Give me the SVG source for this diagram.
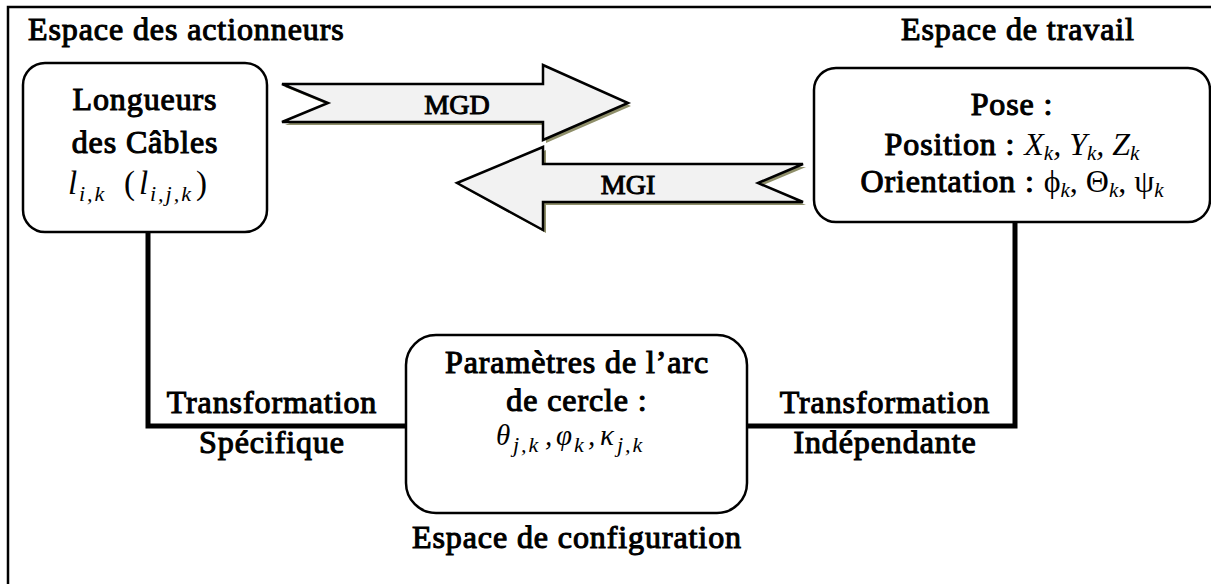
<svg xmlns="http://www.w3.org/2000/svg" width="1211" height="584" viewBox="0 0 1211 584">
<style>
.t{font-family:"Liberation Serif","Times New Roman",serif;font-weight:normal;font-size:32px;letter-spacing:0.9px;fill:#000;stroke:#000;stroke-width:1.1px}
.m{font-family:"Liberation Serif","Times New Roman",serif;font-style:italic;font-weight:normal;letter-spacing:0;stroke:none;fill:#000}
.g{font-family:"Liberation Serif","Times New Roman",serif;font-weight:normal;font-style:normal;letter-spacing:0;stroke:none;fill:#000}
.s{font-size:21px}
.ss{font-size:22px;letter-spacing:2px}
.box{fill:#fff;stroke:#000;stroke-width:2.5}
.arr{fill:#f2f2f2;stroke:#000;stroke-width:2.5;stroke-linejoin:miter}
.sh{fill:#8f8f6a}
.con{fill:none;stroke:#000;stroke-width:5}
.lab{font-family:"Liberation Serif","Times New Roman",serif;font-weight:normal;font-size:28px;stroke:#000;stroke-width:1px}
</style>
<rect x="0" y="0" width="1211" height="584" fill="#fff"/>
<rect id="frame" x="8" y="7" width="1215" height="600" fill="none" stroke="#000" stroke-width="2.5"/>
<text class="t" x="28" y="40">Espace des  actionneurs</text>
<text class="t" x="1018" y="40" text-anchor="middle">Espace de travail</text>
<text class="t" x="577" y="548" text-anchor="middle">Espace de configuration</text>

<g id="connectors">
<polyline class="con" points="148,232 148,426 406,426"/>
<polyline class="con" points="1015,222 1015,426 747,426"/>
</g>
<text class="t" x="272" y="413" text-anchor="middle">Transformation</text>
<text class="t" x="272" y="453" text-anchor="middle">Spécifique</text>
<text class="t" x="885" y="413" text-anchor="middle">Transformation</text>
<text class="t" x="885" y="453" text-anchor="middle">Indépendante</text>

<g id="mgd">
<polygon class="sh" points="285,87 546,87 546,68 631,106 546,143 546,125 285,125 331,106"/>
<polygon class="arr" points="282,84 543,84 543,65 628,103 543,140 543,122 282,122 328,103"/>
<text class="lab" x="457" y="114" text-anchor="middle">MGD</text>
</g>
<g id="mgi">
<polygon class="sh" points="806,167 546,167 546,150 460,186 546,233 546,205 806,205 761,186"/>
<polygon class="arr" points="803,164 543,164 543,147 457,183 543,230 543,202 803,202 758,183"/>
<text class="lab" x="628" y="194" text-anchor="middle">MGI</text>
</g>

<g id="actuator">
<rect class="box" x="23" y="63" width="244" height="169" rx="22"/>
<text class="t" x="145" y="110" text-anchor="middle">Longueurs</text>
<text class="t" x="145" y="153" text-anchor="middle">des Câbles</text>
<text class="m" y="194" font-size="33"><tspan x="68">l</tspan><tspan class="ss" x="79" y="201">i,k</tspan><tspan class="g" x="124" y="194" font-size="33">(</tspan><tspan x="139" y="194">l</tspan><tspan class="ss" x="150" y="201">i,j,k</tspan><tspan class="g" x="196" y="194" font-size="33">)</tspan></text>
</g>

<g id="work">
<rect class="box" x="814" y="68" width="396" height="154" rx="22"/>
<text class="t" x="1012" y="115" text-anchor="middle">Pose :</text>
<text class="t" x="1012" y="155" text-anchor="middle">Position : <tspan class="m" font-size="32">X</tspan><tspan class="m s" dy="5">k</tspan><tspan class="m" font-size="32" dy="-5">, Y</tspan><tspan class="m s" dy="5">k</tspan><tspan class="m" font-size="32" dy="-5">, Z</tspan><tspan class="m s" dy="5">k</tspan></text>
<text class="t" x="1012" y="192" text-anchor="middle">Orientation : <tspan class="g" font-size="32">ϕ</tspan><tspan class="m s" dy="5">k</tspan><tspan class="g" font-size="32" dy="-5">, Θ</tspan><tspan class="m s" dy="5">k</tspan><tspan class="g" font-size="32" dy="-5">, ψ</tspan><tspan class="m s" dy="5">k</tspan></text>
</g>

<g id="config">
<rect class="box" x="406" y="335" width="341" height="178" rx="30"/>
<text class="t" x="577" y="373" text-anchor="middle">Paramètres de l’arc</text>
<text class="t" x="577" y="411" text-anchor="middle">de cercle :</text>
<text class="m" y="445" font-size="29"><tspan x="496">θ</tspan><tspan class="ss" x="513" y="452">j,k</tspan><tspan x="545" y="445">,</tspan><tspan x="556">φ</tspan><tspan class="ss" x="574" y="452">k</tspan><tspan x="588" y="445">,</tspan><tspan x="600">κ</tspan><tspan class="ss" x="617" y="452">j,k</tspan></text>
</g>
</svg>
